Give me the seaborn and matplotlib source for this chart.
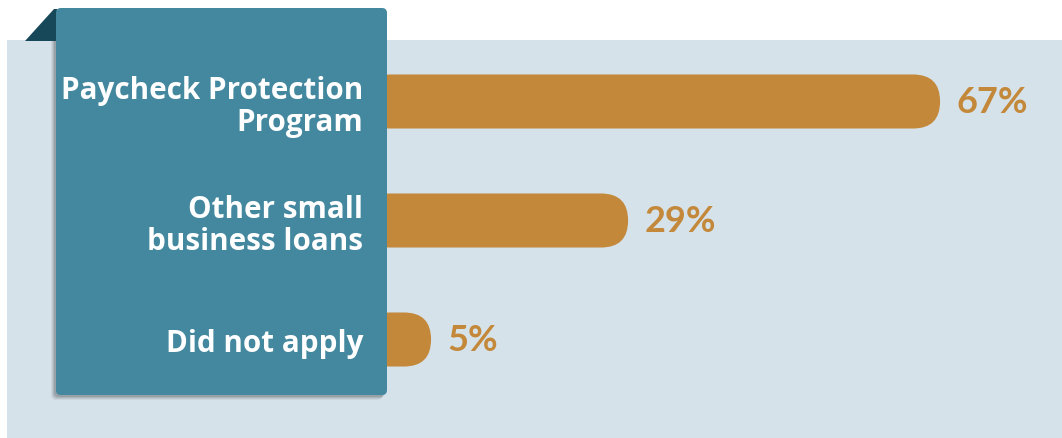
import matplotlib
matplotlib.use("Agg")
import matplotlib.pyplot as plt
from matplotlib.patches import FancyBboxPatch, Rectangle, Polygon
from matplotlib.transforms import IdentityTransform
import seaborn as sns
import pandas as pd

# Funding sources and share of respondents
categories = ["Paycheck Protection\nProgram", "Other small\nbusiness loans", "Did not apply"]
shares = [67, 29, 5]
share_labels = ["67%", "29%", "5%"]

PANEL = "#d5e2ea"
TEAL = "#43889e"
FOLD = "#17485a"
BAR = "#c4883a"

W, H, DPI = 1062, 439, 100
sns.set_theme(style="white")
plt.rcParams["font.family"] = ["Open Sans", "DejaVu Sans"]

fig = plt.figure(figsize=(W / DPI, H / DPI), dpi=DPI, facecolor="white")


def px(x, y):
    """Top-left pixel coords -> display coords."""
    return x, H - y


# light background panel
fig.patches.append(Rectangle(px(7, 440), W - 7, 440 - 41, transform=IdentityTransform(),
                             facecolor=PANEL, edgecolor="none", zorder=-2))

ax = fig.add_axes([370 / W, 0, 1 - 370 / W, 1 - 41 / H])
ax.set_facecolor("none")
ax.set_zorder(1)
ax.set_axisbelow(False)

df = pd.DataFrame({"category": categories, "share": shares})
sns.barplot(data=df, x="share", y="category", orient="h", color=BAR,
            width=0.454, saturation=1, ax=ax)

scale = 8.21  # pixels per percentage point
step = 119.0  # pixels between rows
ax.set_xlim(-20 / scale, (W - 390) / scale)
ax.set_ylim(2 + (439 - 102.5 - 2 * step) / step, -(102.5 - 41) / step)
fig.canvas.draw()

# pixel size of one data unit on each axis
p0 = ax.transData.transform((0, 0))
p1 = ax.transData.transform((1, 1))
ux, uy = abs(p1[0] - p0[0]), abs(p1[1] - p0[1])

# rounded right ends: replace each rectangle with a pill extended behind the label box
for rect in ax.patches[:]:
    x, y, w, h = rect.get_x(), rect.get_y(), rect.get_width(), rect.get_height()
    r_px = abs(h) * uy / 2
    r = r_px / ux
    pill = FancyBboxPatch((x - r, y), w + r, h,
                          boxstyle=f"round,pad=0,rounding_size={r}",
                          mutation_aspect=ux / uy,
                          facecolor=BAR, edgecolor="none", zorder=1)
    ax.add_patch(pill)
    rect.set_visible(False)

ax.bar_label(ax.containers[0], labels=share_labels, padding=12, color=BAR,
             fontsize=26, fontweight="bold", family=["Lato", "DejaVu Sans"])

# label box with soft shadow and folded corner
for off, a in [(5, 0.05), (4, 0.07), (3, 0.09), (2, 0.10)]:
    sh = FancyBboxPatch(px(56 - off, 396 + off), 331, 387,
                        boxstyle="round,pad=0,rounding_size=5",
                        transform=IdentityTransform(), facecolor="#000000",
                        edgecolor="none", alpha=a, zorder=1.1, clip_on=False)
    ax.add_patch(sh)
box = FancyBboxPatch(px(56, 396), 331, 387, boxstyle="round,pad=0,rounding_size=5",
                     transform=IdentityTransform(), facecolor=TEAL, edgecolor="none",
                     zorder=1.2, clip_on=False)
ax.add_patch(box)
fold = Polygon([px(25, 42), px(54, 10), px(57, 10), px(57, 42)], closed=True,
               transform=IdentityTransform(), facecolor=FOLD, edgecolor="none",
               zorder=1.15, clip_on=False)
ax.add_patch(fold)

ax.tick_params(axis="y", length=0, pad=5, labelsize=21.3, labelcolor="white")
for lbl in ax.get_yticklabels():
    lbl.set_fontweight("bold")
    lbl.set_linespacing(1.1)
ax.set_xlabel("")
ax.set_ylabel("")
ax.set_xticks([])
sns.despine(ax=ax, left=True, bottom=True)

fig.savefig("out.png", dpi=DPI, facecolor="white")
